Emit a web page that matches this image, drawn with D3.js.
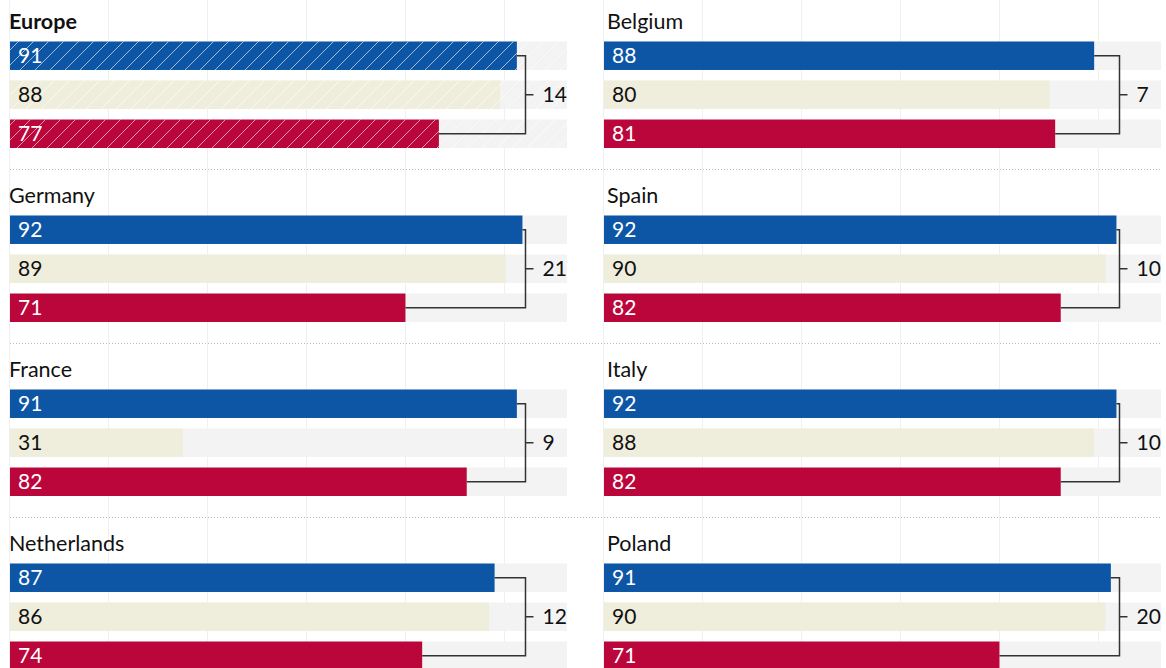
<!DOCTYPE html>
<html>
<head>
<meta charset="utf-8">
<script src="https://cdn.jsdelivr.net/npm/d3@7"></script>
<style>
  html, body { margin: 0; padding: 0; background: #fff; }
  svg { display: block; font-family: Lato, "Noto Sans", sans-serif; }
</style>
</head>
<body>
<svg id="chart" width="1166" height="668"></svg>
<script>
// Panels, laid out left-to-right, top-to-bottom
const regions = ["Europe", "Belgium", "Germany", "Spain", "France", "Italy", "Netherlands", "Poland"];
const series = ["top", "middle", "bottom"];
const topValues    = [91, 88, 92, 92, 91, 92, 87, 91];
const middleValues = [88, 80, 89, 90, 31, 88, 86, 90];
const bottomValues = [77, 81, 71, 82, 82, 82, 74, 71];
const gapLabels    = [14, 7, 21, 10, 9, 10, 12, 20];

const W = 1166, H = 668;
const colors = { top: "#0d56a6", middle: "#efeedc", bottom: "#bb063b" };
const labelColors = { top: "#fff", middle: "#111", bottom: "#fff" };
const BRACKET_AT = 92.4;   // value where the gap bracket sits

const svg = d3.select("#chart");
const defs = svg.append("defs");

// Diagonal hatching used for the aggregate panel
const hatch = defs.append("pattern")
  .attr("id", "hatch")
  .attr("patternUnits", "userSpaceOnUse")
  .attr("width", 15).attr("height", 15);
hatch.append("path")
  .attr("d", "M-1,16 L16,-1 M-4,4 L4,-4 M11,19 L19,11")
  .attr("stroke", "#fff").attr("stroke-width", 1).attr("stroke-opacity", 0.6);

// Page grid
const gridX = d3.scaleLinear().domain([0, 11]).range([9.5, 1098.5]);
svg.append("g").selectAll("line")
  .data(d3.range(12))
  .join("line")
  .attr("x1", d => gridX(d)).attr("x2", d => gridX(d))
  .attr("y1", 0).attr("y2", H)
  .attr("stroke", "#f0f0f0").attr("stroke-width", 1);

// Column and row geometry
const columns = [
  d3.scaleLinear().domain([0, 100]).range([10, 567]),
  d3.scaleLinear().domain([0, 100]).range([604, 1161])
];
const titleInset = [-1, 3];
const rowTop = d3.scaleLinear().domain([0, 1]).range([-5, 169]);

// Row separators
svg.append("g").selectAll("line")
  .data([1, 2, 3])
  .join("line")
  .attr("x1", 10).attr("x2", 1161)
  .attr("y1", d => Math.round(rowTop(d)) + 0.5)
  .attr("y2", d => Math.round(rowTop(d)) + 0.5)
  .attr("stroke", "#bdbdbd").attr("stroke-width", 1)
  .attr("stroke-dasharray", "1,2");

const panels = regions.map((name, i) => ({
  name, i,
  col: i % 2, row: Math.floor(i / 2),
  values: { top: topValues[i], middle: middleValues[i], bottom: bottomValues[i] },
  gap: gapLabels[i]
}));

panels.forEach(p => {
  const x = columns[p.col];
  const y0 = rowTop(p.row);
  const y = d3.scaleBand().domain(series)
    .range([y0 + 46.5, y0 + 46.5 + 106.5])
    .paddingInner(0.27).paddingOuter(0);
  const g = svg.append("g");

  g.append("text")
    .attr("x", x(0) + titleInset[p.col]).attr("y", y0 + 34)
    .attr("font-size", 21.5)
    .attr("font-weight", p.i === 0 ? 700 : 400)
    .attr("fill", "#111")
    .text(p.name);

  // full-scale tracks
  g.selectAll("rect.track")
    .data(series)
    .join("rect").attr("class", "track")
    .attr("x", x(0)).attr("width", x(100) - x(0))
    .attr("y", d => y(d)).attr("height", y.bandwidth())
    .attr("fill", "#f3f3f3");

  g.selectAll("rect.bar")
    .data(series)
    .join("rect").attr("class", "bar")
    .attr("x", x(0)).attr("width", d => x(p.values[d]) - x(0))
    .attr("y", d => y(d)).attr("height", y.bandwidth())
    .attr("fill", d => colors[d]);

  if (p.i === 0) {
    g.selectAll("rect.hatch")
      .data(series)
      .join("rect").attr("class", "hatch")
      .attr("x", x(0)).attr("width", x(100) - x(0))
      .attr("y", d => y(d)).attr("height", y.bandwidth())
      .attr("fill", "url(#hatch)");
  }

  g.selectAll("text.val")
    .data(series)
    .join("text").attr("class", "val")
    .attr("x", x(0) + 8)
    .attr("y", d => y(d) + y.bandwidth() / 2)
    .attr("dy", "0.36em")
    .attr("font-size", 21)
    .attr("fill", d => labelColors[d])
    .text(d => p.values[d]);

  // bracket linking the top and bottom bars
  const bx = Math.round(x(BRACKET_AT)) + 0.5;
  const yt = y("top") + y.bandwidth() / 2;
  const yb = y("bottom") + y.bandwidth() / 2;
  const ym = y("middle") + y.bandwidth() / 2;
  g.append("path")
    .attr("d", `M${x(p.values.top)},${yt}H${bx}V${yb}H${x(p.values.bottom)}`)
    .attr("fill", "none").attr("stroke", "#333").attr("stroke-width", 1.5);
  g.append("line")
    .attr("x1", bx).attr("x2", bx + 8)
    .attr("y1", ym).attr("y2", ym)
    .attr("stroke", "#333").attr("stroke-width", 1.5);
  g.append("text")
    .attr("x", bx + 17).attr("y", ym)
    .attr("dy", "0.36em")
    .attr("font-size", 21)
    .attr("fill", "#111")
    .text(p.gap);
});
</script>
</body>
</html>
